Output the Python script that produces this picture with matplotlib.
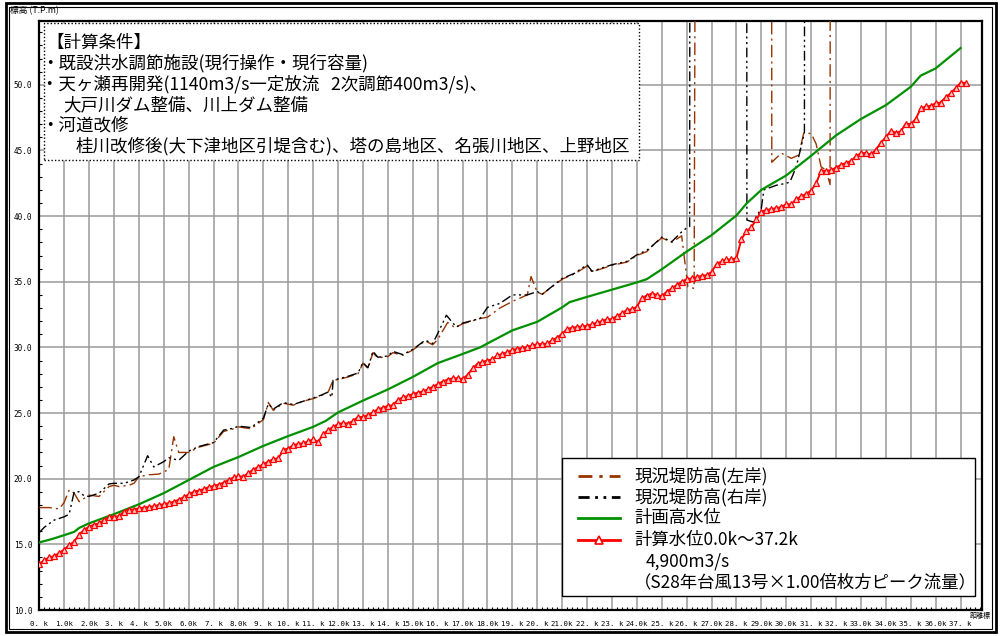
import numpy as np
import matplotlib
matplotlib.use("Agg")
import matplotlib.pyplot as plt
from matplotlib.lines import Line2D
from matplotlib.patches import Rectangle
from matplotlib.ticker import FixedLocator, MultipleLocator

plt.rcParams['font.family'] = ['Noto Sans CJK JP', 'DejaVu Sans']

W, H = 1001, 636

# ---- distance markers -------------------------------------------------
km_ticks = list(range(0, 38))
km_labels = ["0. k", "1.0k", "2.0k", "3. k", "4. k", "5.0k", "6.0k", "7. k", "8.0k", "9. k",
             "10. k", "11. k", "12.0k", "13. k", "14. k", "15.0k", "16. k", "17.0k", "18.0k", "19. k",
             "20. k", "21.0k", "22. k", "23. k", "24.0k", "25. k", "26. k", "27.0k", "28. k", "29.0k",
             "30.0k", "31. k", "32. k", "33.0k", "34.0k", "35. k", "36.0k", "37. k"]
elev_ticks = [10, 15, 20, 25, 30, 35, 40, 45, 50]
elev_labels = ["10.0", "15.0", "20.0", "25.0", "30.0", "35.0", "40.0", "45.0", "50.0"]

# ---- computed water level 0.0k - 37.2k (every 0.2 km) -------------------
calc_km = np.round(np.arange(0.0, 37.2 + 1e-9, 0.2), 1)
calc_wl = [
    13.5, 13.8, 14.0, 14.1, 14.35,
    14.6, 14.95, 15.2, 15.75, 16.1,
    16.35, 16.5, 16.6, 16.85, 17.05,
    17.1, 17.15, 17.5, 17.65, 17.65,
    17.75, 17.8, 17.85, 17.9, 18.0,
    18.05, 18.15, 18.25, 18.4, 18.6,
    18.8, 19.0, 19.1, 19.2, 19.35,
    19.45, 19.55, 19.7, 19.9, 20.1,
    20.2, 20.15, 20.45, 20.7, 20.9,
    21.1, 21.3, 21.5, 21.55, 22.2,
    22.3, 22.55, 22.65, 22.7, 22.85,
    23.0, 22.8, 23.4, 23.7, 23.95,
    24.15, 24.25, 24.2, 24.4, 24.7,
    24.7, 24.85, 25.05, 25.3, 25.4,
    25.55, 25.6, 26.0, 26.2, 26.3,
    26.45, 26.55, 26.65, 26.8, 27.0,
    27.2, 27.4, 27.55, 27.65, 27.65,
    27.6, 27.9, 28.4, 28.75, 28.9,
    29.0, 29.1, 29.4, 29.5, 29.65,
    29.8, 29.9, 29.95, 30.05, 30.15,
    30.25, 30.25, 30.3, 30.55, 30.75,
    31.05, 31.4, 31.5, 31.55, 31.6,
    31.65, 31.75, 31.9, 32.0, 32.15,
    32.15, 32.4, 32.6, 32.85, 32.9,
    33.1, 33.75, 33.95, 34.1, 34.0,
    33.9, 34.25, 34.5, 34.75, 35.0,
    35.2, 35.25, 35.35, 35.45, 35.5,
    35.75, 36.35, 36.55, 36.7, 36.7,
    36.8, 38.25, 38.85, 39.15, 39.75,
    40.35, 40.45, 40.55, 40.6, 40.7,
    40.9, 40.9, 41.3, 41.5, 41.7,
    41.95, 42.5, 43.45, 43.45, 43.5,
    43.7, 43.9, 44.05, 44.2, 44.55,
    44.8, 44.8, 44.7, 45.05, 45.6,
    46.0, 46.5, 46.35, 46.45, 47.05,
    47.0, 47.4, 48.2, 48.35, 48.4,
    48.6, 48.65, 49.05, 49.35, 49.75,
    50.15, 50.15,
]

# ---- design high water level ---------------------------------------------
hwl_km = [0.0, 0.5, 1.0, 1.4, 1.6, 2.0, 3.0, 4.0, 5.0, 6.0, 7.0, 8.0, 9.0, 10.0,
          11.0, 11.5, 12.0, 13.0, 14.0, 15.0, 16.0, 17.0, 17.7, 18.0, 19.0, 20.0,
          21.0, 21.3, 22.0, 23.0, 24.0, 24.4, 25.0, 26.0, 27.0, 28.0, 28.4, 29.0,
          30.0, 31.0, 32.0, 33.0, 34.0, 35.0, 35.4, 36.0, 37.0]
hwl_h = [15.15, 15.4, 15.7, 15.95, 16.25, 16.6, 17.3, 18.05, 18.9, 19.9, 20.9, 21.65,
         22.5, 23.25, 23.95, 24.4, 25.05, 25.95, 26.8, 27.75, 28.8, 29.5, 30.0, 30.3,
         31.3, 31.95, 33.05, 33.45, 33.85, 34.4, 34.95, 35.2, 35.95, 37.3, 38.55,
         40.05, 40.95, 42.0, 43.1, 44.6, 46.15, 47.4, 48.45, 49.85, 50.7, 51.25, 52.8]

# ---- existing levee crown, left bank (99 = no levee / high ground) ------
lb_km = [0.0, 0.4, 0.8, 1.0, 1.2, 1.4, 1.6, 1.8, 2.0, 2.4, 2.8, 3.0, 3.2, 3.6, 3.8,
         4.0, 4.4, 4.8, 5.2, 5.4, 5.6, 6.0, 6.4, 7.0, 7.4, 7.8, 8.0, 8.5, 9.0, 9.2,
         9.4, 9.8, 10.2, 10.6, 11.0, 11.3, 11.6, 11.8, 12.0, 12.4, 12.8, 13.0, 13.2,
         13.4, 13.6, 14.0, 14.2, 14.6, 15.0, 15.5, 15.8, 16.0, 16.4, 16.7, 17.0,
         17.7, 18.0, 18.5, 19.0, 19.6, 19.75, 20.0, 20.2, 21.0, 21.5, 22.0, 22.2,
         23.0, 23.6, 24.0, 24.4, 24.6, 25.0, 25.4, 25.8, 26.05, 26.3, 26.4, 29.4,
         29.42, 29.8, 30.2, 30.5, 30.7, 31.0, 31.2, 31.4, 31.6, 31.76, 31.78]
lb_h = [17.8, 17.8, 17.7, 18.2, 19.15, 18.9, 18.25, 18.5, 18.75, 18.65, 19.4, 19.5,
        19.4, 19.5, 19.65, 20.15, 20.3, 20.35, 20.7, 23.2, 22.0, 22.0, 22.4, 22.7,
        23.6, 23.8, 23.95, 23.8, 24.5, 25.8, 25.2, 25.75, 25.6, 25.9, 26.1, 26.3,
        26.6, 27.5, 27.55, 27.75, 28.0, 28.8, 28.4, 29.6, 29.2, 29.3, 29.6, 29.4,
        29.8, 30.5, 30.2, 30.6, 31.9, 31.5, 31.8, 32.2, 32.3, 33.0, 33.5, 34.0,
        35.4, 34.2, 34.05, 35.2, 35.6, 36.2, 35.75, 36.25, 36.5, 37.0, 37.3, 37.7,
        38.35, 38.0, 38.5, 34.6, 34.5, 99, 99, 44.1, 44.8, 44.4, 44.65, 46.3, 46.3,
        45.5, 43.75, 43.5, 42.4, 99]

# ---- existing levee crown, right bank ------------------------------------
rb_km = [0.0, 0.2, 0.6, 1.0, 1.2, 1.4, 1.6, 1.8, 2.0, 2.4, 2.8, 3.0, 3.4, 3.8, 4.0,
         4.35, 4.6, 5.0, 5.2, 5.6, 6.0, 6.4, 7.0, 7.4, 7.8, 8.0, 8.5, 9.0, 9.2, 9.4,
         9.8, 10.2, 10.6, 11.0, 11.3, 11.6, 11.75, 11.8, 12.0, 12.4, 12.8, 13.0,
         13.2, 13.4, 13.6, 14.0, 14.2, 14.6, 15.0, 15.5, 15.8, 16.0, 16.35, 16.75,
         17.0, 17.7, 18.0, 18.5, 19.0, 19.6, 20.0, 20.2, 21.0, 21.5, 22.0, 22.2,
         23.0, 23.6, 24.0, 24.4, 24.6, 25.0, 25.4, 25.8, 26.0, 26.12, 26.14, 28.4,
         28.42, 28.67, 29.0, 29.1, 29.6, 30.0, 30.15, 30.4, 30.6, 30.73, 30.75]
rb_h = [15.9, 16.3, 16.85, 17.1, 17.3, 19.0, 19.0, 18.7, 18.65, 18.9, 19.6, 19.65,
        19.65, 19.9, 20.15, 21.75, 20.9, 21.3, 21.6, 21.4, 22.1, 22.45, 22.75, 23.7,
        23.85, 24.0, 23.9, 24.6, 25.7, 25.3, 25.8, 25.65, 25.9, 26.15, 26.35, 26.6,
        26.2, 27.5, 27.6, 27.8, 28.05, 28.85, 28.45, 29.7, 29.25, 29.35, 29.7, 29.45,
        29.85, 30.55, 30.3, 31.05, 32.45, 31.55, 31.85, 32.2, 33.05, 33.35, 34.0,
        34.0, 34.25, 34.05, 35.25, 35.65, 36.3, 35.8, 36.3, 36.55, 37.05, 37.4, 37.7,
        38.4, 38.05, 38.8, 39.1, 39.2, 99, 99, 39.7, 39.55, 40.6, 42.0, 42.35, 42.5,
        42.6, 43.75, 45.3, 46.4, 99]

# ---- styling -------------------------------------------------------------
C_LEFT = '#993300'
C_RIGHT = '#000000'
C_HWL = '#009000'
C_CALC = '#ff0000'
DASH_LEFT = (0, (9, 3, 1.5, 3))
DASH_RIGHT = (0, (7, 2.5, 1.5, 2.5, 1.5, 2.5))


def fx(px):
    return px / W


def fy(py):
    return 1 - py / H


fig = plt.figure(figsize=(W / 100, H / 100), dpi=100)
fig.patch.set_facecolor('white')

ax_left, ax_right, ax_top, ax_bottom = 39.3, 981.7, 20.5, 610.0
ax = fig.add_axes([fx(ax_left), fy(ax_bottom), fx(ax_right - ax_left), (ax_bottom - ax_top) / H])
ax.set_xlim(0, 37.85)
ax.set_ylim(10, 54.9)

ax.plot(lb_km, lb_h, color=C_LEFT, lw=1.0, linestyle=DASH_LEFT, zorder=3)
ax.plot(rb_km, rb_h, color=C_RIGHT, lw=1.0, linestyle=DASH_RIGHT, zorder=3)
ax.plot(hwl_km, hwl_h, color=C_HWL, lw=1.6, zorder=4)
ax.plot(calc_km, calc_wl, color=C_CALC, lw=1.4, marker='^', markersize=4.5,
        markerfacecolor='#ffc8c8', markeredgecolor=C_CALC, markeredgewidth=0.9, zorder=5)

# axes, ticks and grid
ax.xaxis.set_major_locator(FixedLocator(km_ticks))
ax.set_xticklabels(km_labels, family='DejaVu Sans Mono', fontsize=5.3)
ax.xaxis.set_minor_locator(MultipleLocator(0.2))
ax.yaxis.set_major_locator(FixedLocator(elev_ticks))
ax.set_yticklabels(elev_labels, family='DejaVu Sans Mono', fontsize=5.6)
ax.yaxis.set_minor_locator(MultipleLocator(1))
ax.tick_params(axis='x', which='major', length=0, pad=8)
ax.tick_params(axis='y', which='major', length=0, pad=5)
ax.tick_params(which='minor', direction='in', length=2.2, width=0.8, color='black')
ax.tick_params(which='minor', top=False, right=False)
ax.grid(True, which='major', color='#9a9a9a', lw=1.1, zorder=1)
for s in ax.spines.values():
    s.set_linewidth(1.6)
    s.set_color('black')
ax.set_axisbelow(True)

# condition box
box_l, box_t, box_r, box_b = 44, 23, 639, 160
fig.patches.append(Rectangle((fx(box_l), fy(box_b)), fx(box_r - box_l), (box_b - box_t) / H,
                             transform=fig.transFigure, facecolor='white', edgecolor='black',
                             lw=1.0, linestyle=(0, (1, 1.5)), zorder=6))
cond_lines = [
    (46, "【計算条件】"),
    (41, "・既設洪水調節施設(現行操作・現行容量)"),
    (41, "・天ヶ瀬再開発(1140m3/s一定放流   2次調節400m3/s)、"),
    (63, "大戸川ダム整備、川上ダム整備"),
    (41, "・河道改修"),
    (76, "桂川改修後(大下津地区引堤含む)、塔の島地区、名張川地区、上野地区"),
]
for i, (x0, line) in enumerate(cond_lines):
    fig.text(fx(x0), fy(43 + i * 20.6), line, fontsize=12.6, ha='left', va='center', zorder=7)

# axis captions
fig.text(fx(10), fy(10.5), "標高 (T.P.m)", fontsize=6.3, ha='left', va='center')
fig.text(fx(970), fy(616), "距離標", fontsize=5.0, ha='left', va='center')

# legend panel
leg_l, leg_t, leg_r, leg_b = 562, 458, 975, 596
fig.patches.append(Rectangle((fx(leg_l), fy(leg_b)), fx(leg_r - leg_l), (leg_b - leg_t) / H,
                             transform=fig.transFigure, facecolor='white', edgecolor='black',
                             lw=1.0, zorder=8))
row_y = [476, 497, 518, 540, 561, 582]
samples = [
    dict(color=C_LEFT, lw=2.0, linestyle=(0, (5, 2.5, 1.2, 2.5))),
    dict(color=C_RIGHT, lw=2.0, linestyle=(0, (4, 2, 1, 2, 1, 2))),
    dict(color=C_HWL, lw=2.0),
    dict(color=C_CALC, lw=2.0, marker='^', markersize=6, markevery=[1],
         markerfacecolor='white', markeredgecolor=C_CALC, markeredgewidth=1.2),
]
for y, kw in zip(row_y, samples):
    fig.add_artist(Line2D([fx(578), fx(599), fx(620)], [fy(y)] * 3,
                          transform=fig.transFigure, zorder=9, **kw))
legend_texts = [
    (634, "現況堤防高(左岸)"),
    (634, "現況堤防高(右岸)"),
    (634, "計画高水位"),
    (634, "計算水位0.0k～37.2k"),
    (646, "4,900m3/s"),
    (634, "（S28年台風13号×1.00倍枚方ピーク流量）"),
]
for y, (x0, t) in zip(row_y, legend_texts):
    fig.text(fx(x0), fy(y), t, fontsize=12.5, ha='left', va='center', zorder=9)

# outer frame
fig.patches.append(Rectangle((fx(5.5), fy(632)), fx(990), 629 / H, transform=fig.transFigure,
                             fill=False, edgecolor='black', lw=2.0))
fig.patches.append(Rectangle((fx(9), fy(628.5)), fx(983), 622 / H, transform=fig.transFigure,
                             fill=False, edgecolor='black', lw=0.8))

fig.savefig('out.png', dpi=100)
